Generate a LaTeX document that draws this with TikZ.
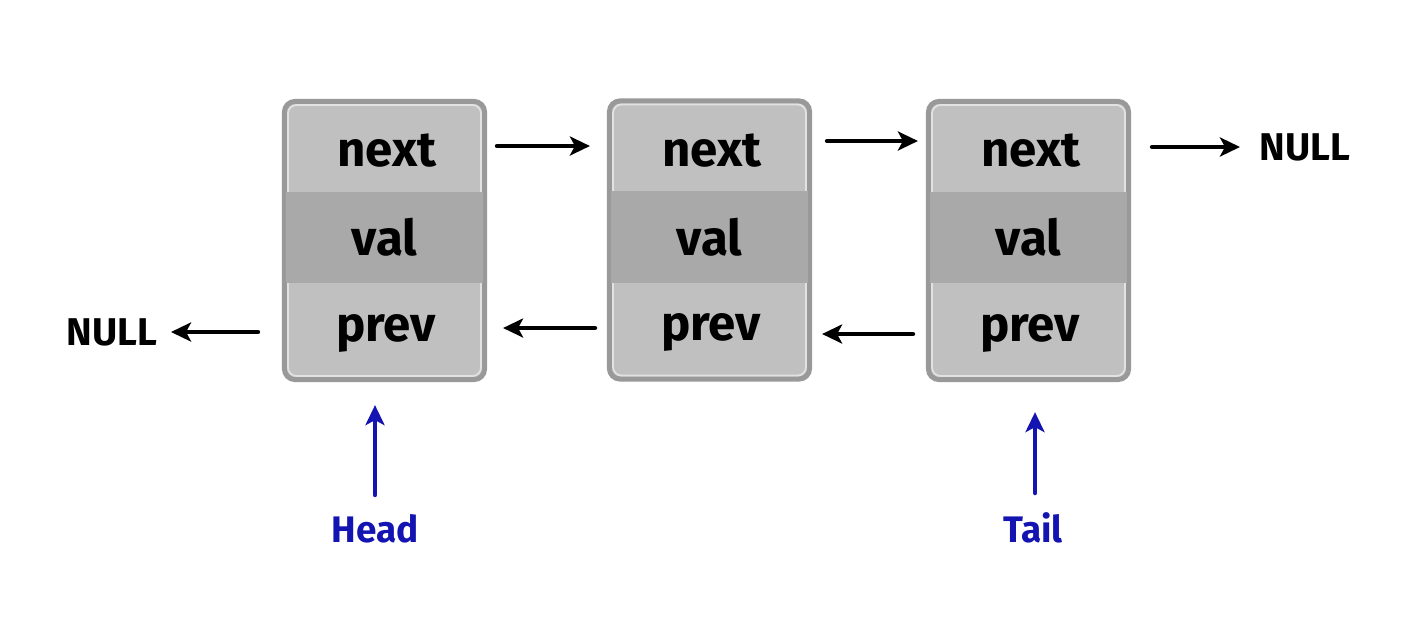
\documentclass[tikz,border=0pt]{standalone}
\usepackage{fontspec}
\setmainfont{Fira Sans}
\usetikzlibrary{arrows.meta, positioning}
\definecolor{cellLight}{HTML}{C0C0C0}
\definecolor{cellDark}{HTML}{A9A9A9}
\definecolor{cellRim}{HTML}{999999}
\definecolor{rimLine}{HTML}{E2E2E2}
\definecolor{ptrBlue}{HTML}{1414B2}
\tikzset{
  cellbox/.style={rectangle, rounded corners=3pt, draw=cellRim, fill=cellLight,
                  line width=0.05cm, minimum width=2.0cm, minimum height=2.78cm, inner sep=0pt},
  rimline/.style={rectangle, rounded corners=2.5pt, draw=rimLine, line width=0.5pt,
                  minimum width=1.93cm, minimum height=2.71cm, inner sep=0pt},
  midband/.style={rectangle, fill=cellDark, minimum width=1.96cm, minimum height=0.91cm,
                  inner sep=0pt, font=\fontsize{14}{16}\selectfont\bfseries},
  field/.style={inner sep=0pt, font=\fontsize{14}{16}\selectfont\bfseries},
  nullbox/.style={inner sep=2pt, font=\fontsize{11}{13}\selectfont\bfseries},
  endbox/.style={inner sep=2pt, text=ptrBlue, font=\fontsize{10.5}{12}\selectfont\bfseries},
  ptr/.style={-{Stealth[length=2mm, width=1.9mm, inset=0.5mm]}, line width=1.3pt, line cap=round},
  ptrB/.style={ptr, ptrBlue},
}
\begin{document}
\begin{tikzpicture}[x=0.01cm, y=-0.01cm]
  \useasboundingbox (0,0) rectangle (1428,642);
  % first node
  \node[cellbox] (b1) at (384.5,240.5) {};
  \node[rimline] at (b1.center) {};
  \node[midband] (v1) at (384.5,237.5) {val};
  \node[field] (n1) at (387,151) {next};
  \node[field] (p1) at (386,333) {prev};
  % second node
  \node[cellbox] (b2) at (709.5,240) {};
  \node[rimline] at (b2.center) {};
  \node[midband] (v2) at (709.5,237) {val};
  \node[field] (n2) at (712,151) {next};
  \node[field] (p2) at (711,332) {prev};
  % third node
  \node[cellbox] (b3) at (1028.5,240.5) {};
  \node[rimline] at (b3.center) {};
  \node[midband] (v3) at (1028.5,237.5) {val};
  \node[field] (n3) at (1031,151) {next};
  \node[field] (p3) at (1030,333) {prev};

  \node[nullbox] (nullR) at (1305,147) {NULL};
  \node[nullbox] (nullL) at (112,332) {NULL};
  \node[endbox] (head) at (375,529) {Head};
  \node[endbox] (tail) at (1033,528) {Tail};

  % next pointers
  \draw[ptr, shorten <=0.1cm, shorten >=0.17cm] (b1.east |- 0,146) -- (b2.west |- 0,146);
  \draw[ptr, shorten <=0.15cm, shorten >=0.08cm] (b2.east |- 0,141) -- (b3.west |- 0,141);
  \draw[ptr, shorten <=0.21cm, shorten >=0.12cm] (b3.east |- nullR) -- (nullR.west);
  % prev pointers
  \draw[ptr, shorten <=0.24cm, shorten >=0.06cm] (b1.west |- nullL) -- (nullL.east);
  \draw[ptr, shorten <=0.12cm, shorten >=0.16cm] (b2.west |- 0,328) -- (b1.east |- 0,328);
  \draw[ptr, shorten <=0.13cm, shorten >=0.10cm] (b3.west |- 0,334) -- (b2.east |- 0,334);
  % head and tail
  \draw[ptrB, shorten <=0.12cm, shorten >=0.23cm] (head.north) -- (head.north |- b1.south);
  \draw[ptrB, shorten <=0.12cm, shorten >=0.30cm] (tail.north -| 1035,0) -- (b3.south -| 1035,0);
\end{tikzpicture}
\end{document}
